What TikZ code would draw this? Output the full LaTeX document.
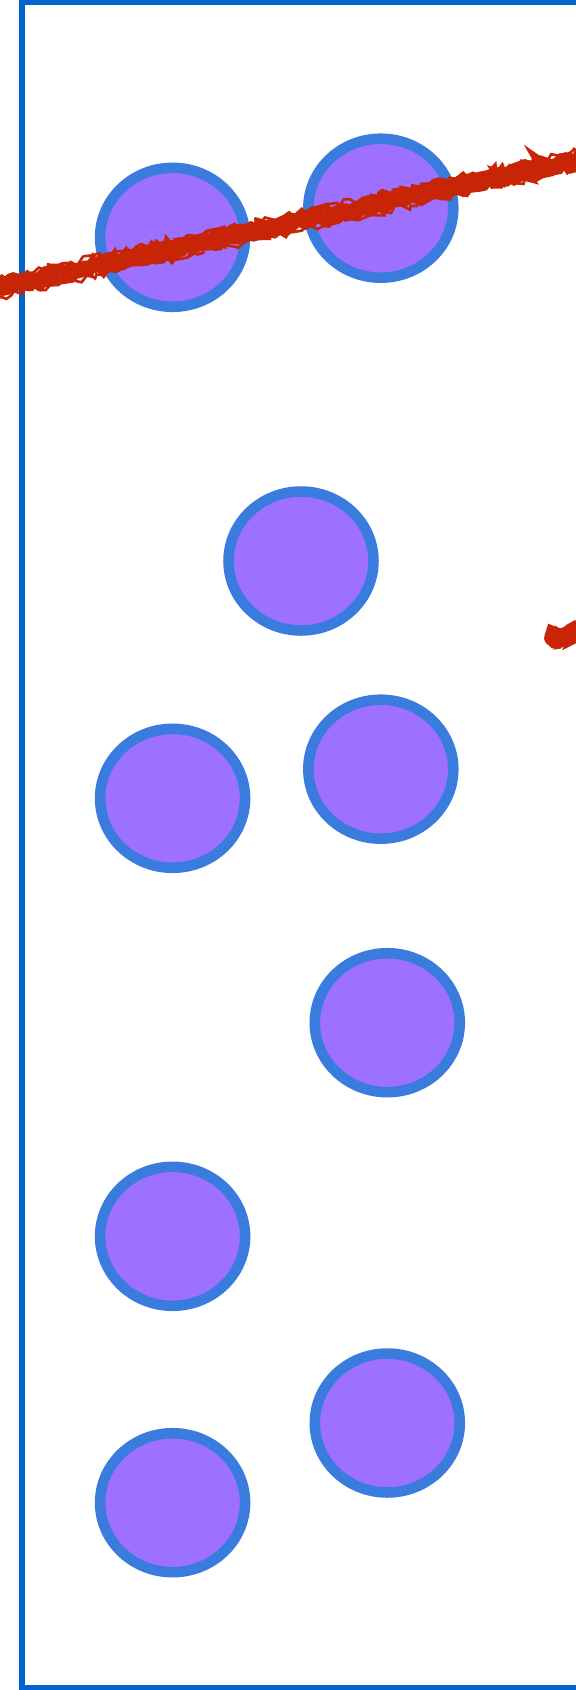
\documentclass[tikz,border=0pt]{standalone}
\usepackage{xcolor}
\definecolor{FrameBlue}{HTML}{0066CC}
\definecolor{RingBlue}{HTML}{3A7BDE}
\definecolor{Lilac}{HTML}{9E70FF}
\definecolor{Scrawl}{HTML}{C82506}
\usepackage{tikz}
\usetikzlibrary{shapes.geometric,decorations.pathmorphing}

\begin{document}
\begin{tikzpicture}[
  x=0.02cm,y=-0.02cm,
  ball/.style={ellipse,draw=RingBlue,fill=Lilac,line width=6pt,inner sep=0pt,minimum width=2.9cm,minimum height=2.78cm},
  frame/.style={draw=FrameBlue,line width=2.9pt},
  scrawl/.style={draw=Scrawl,line cap=round,decorate,decoration={random steps,segment length=3pt,amplitude=2.2pt}}
]
  \useasboundingbox (0,0) rectangle (575,1690);
  \fill[white] (0,0) rectangle (575,1690);
  \draw[frame] (22,2.5) -- (600,2.5);
  \draw[frame] (22,0) -- (22,1687.5) -- (600,1687.5);

  \node[ball] (b1) at (172.6,237.3) {};
  \node[ball] (b2) at (380.8,208.2) {};
  \node[ball] (b3) at (301.0,561.0) {};
  \node[ball] (b4) at (172.6,798.3) {};
  \node[ball] (b5) at (380.8,769.2) {};
  \node[ball] (b6) at (387.3,1022.7) {};
  \node[ball] (b7) at (172.6,1236.3) {};
  \node[ball] (b8) at (387.3,1423.0) {};
  \node[ball] (b9) at (172.6,1502.7) {};

  % red scribbles
  \pgfmathsetseed{7}
  \foreach \dy/\w in {0/7pt,-5/4pt,5/4pt,-9/1.5pt,9/1.5pt,-2/2pt,3/2pt}{
    \draw[scrawl,line width=\w] (-10,290+\dy) -- (585,158+\dy);
  }
  \foreach \dy/\w in {0/9pt,-6/4pt,6/4pt,-10/1.5pt,9/1.5pt}{
    \draw[scrawl,line width=\w] (552,638+\dy) -- (590,632+\dy);
  }
\end{tikzpicture}
\end{document}
